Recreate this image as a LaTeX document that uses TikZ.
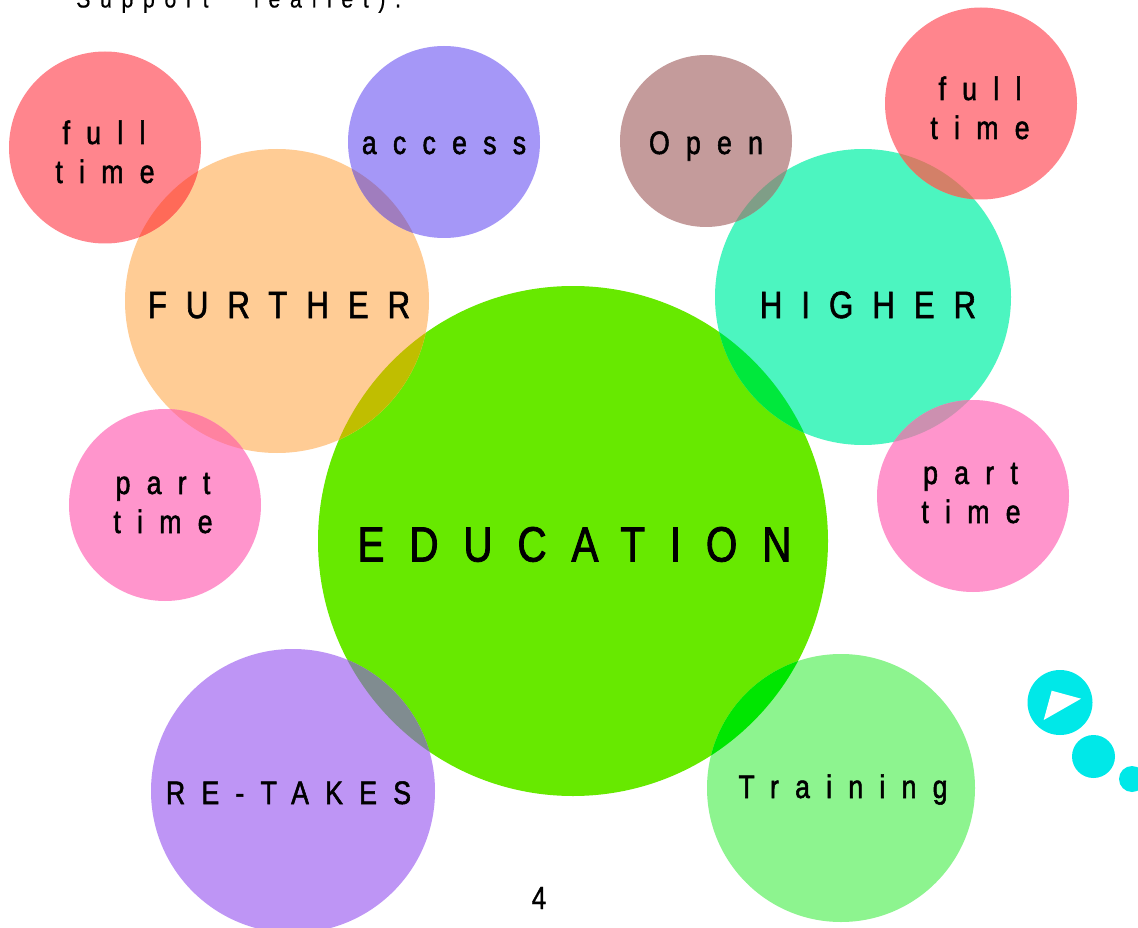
\documentclass[tikz,border=0pt]{standalone}
\usepackage{fontspec}
\setmainfont[FakeStretch=0.82,LetterSpace=50,FakeBold=1.6]{Liberation Sans}
\newfontfamily\plainfont[FakeStretch=0.82,FakeBold=1]{Liberation Sans}
\newfontfamily\topfont[FakeStretch=0.82,LetterSpace=37,FakeBold=0.5]{Liberation Sans}
\definecolor{cEdu}{HTML}{67E900}
\definecolor{cFur}{HTML}{FFCC95}
\definecolor{cHig}{HTML}{4CF5C0}
\definecolor{cRed}{HTML}{FF858D}
\definecolor{cAcc}{HTML}{A597F7}
\definecolor{cOpe}{HTML}{C49B9B}
\definecolor{cPin}{HTML}{FF95CC}
\definecolor{cRet}{HTML}{BE95F5}
\definecolor{cTra}{HTML}{8DF48F}
\definecolor{cCya}{HTML}{00E8E8}
\tikzset{
  x=1pt,y=-1pt,
  blob/.style={circle,minimum size=#1,inner sep=0pt,outer sep=0pt},
  lblXL/.style={anchor=base,inner sep=0pt,font=\fontsize{49.5}{49.5}\selectfont},
  lblL/.style={anchor=base,inner sep=0pt,font=\fontsize{38}{38}\selectfont},
  lblS/.style={anchor=base,inner sep=0pt,font=\fontsize{32.5}{32.5}\selectfont},
}
\newcommand{\ovl}[7]{% colour, x1,y1,r1, x2,y2,r2
  \begin{scope}\definecolor{ovlc}{HTML}{#1}\clip (#2,#3) circle[radius=#4];\fill[ovlc] (#5,#6) circle[radius=#7];\end{scope}}
\begin{document}
\begin{tikzpicture}
\useasboundingbox (0,0) rectangle (1138,928);
\clip (0,0) rectangle (1138,928);
\fill[white] (0,0) rectangle (1138,928);
% circles
\node[blob=510pt,fill=cEdu] (edu) at (573,541) {};
\node[blob=304pt,fill=cFur] (fur) at (277,301) {};
\node[blob=296pt,fill=cHig] (hig) at (863,297) {};
\node[blob=192pt,fill=cRed] (fl) at (105,147.5) {};
\node[blob=192pt,fill=cAcc] (acc) at (444,142) {};
\node[blob=172pt,fill=cOpe] (ope) at (706,141) {};
\node[blob=192pt,fill=cRed] (fr) at (981,103.5) {};
\node[blob=192pt,fill=cPin] (pl) at (165,505) {};
\node[blob=192pt,fill=cPin] (pr) at (973,496) {};
\node[blob=284pt,fill=cRet] (ret) at (293,791) {};
\node[blob=268pt,fill=cTra] (tra) at (841,788) {};
% overlaps
\ovl{FF6A58}{277}{301}{152}{105}{147.5}{96}
\ovl{A07DBE}{277}{301}{152}{444}{142}{96}
\ovl{FF82A0}{277}{301}{152}{165}{505}{96}
\ovl{C0BE00}{277}{301}{152}{573}{541}{255}
\ovl{00E83C}{863}{297}{148}{573}{541}{255}
\ovl{7F9E87}{863}{297}{148}{706}{141}{86}
\ovl{D38068}{863}{297}{148}{981}{103.5}{96}
\ovl{CC90B0}{863}{297}{148}{973}{496}{96}
\ovl{808C90}{293}{791}{142}{573}{541}{255}
\ovl{00E600}{841}{788}{134}{573}{541}{255}
% play badge
\node[blob=65pt,fill=cCya] (b1) at (1060,702.5) {};
\node[blob=43pt,fill=cCya] (b2) at (1093.5,756.5) {};
\node[blob=26pt,fill=cCya] (b3) at (1132,779) {};
\fill[white] (1051.7,690.7) -- (1081,698.7) -- (1043.7,720) -- cycle;
% labels
\node[lblXL] (tEdu) at (574.5,561.5) {EDUCATION};
\node[lblL] (tFur) at (279,318) {FURTHER};
\node[lblL] (tHig) at (868,318) {HIGHER};
\node[lblS] (tRet) at (288.5,804) {RE-TAKES};
\node[lblS] (tTra) at (843,798) {Training};
\node[lblS] (tAcc) at (444,154) {access};
\node[lblS] (tOpe) at (706,154) {Open};
\node[lblS] (tFl1) at (104,144) {full};
\node[lblS] (tFl2) at (105,183) {time};
\node[lblS] (tFr1) at (980,100) {full};
\node[lblS] (tFr2) at (980,139) {time};
\node[lblS] (tPl1) at (163,494) {part};
\node[lblS] (tPl2) at (163,533) {time};
\node[lblS] (tPr1) at (970.5,484) {part};
\node[lblS] (tPr2) at (971,523) {time};
\node[anchor=base,inner sep=0pt,font=\plainfont\fontsize{32}{32}\selectfont] (tNum) at (539,909) {4};
\node[anchor=base west,inner sep=0pt,font=\topfont\fontsize{26}{26}\selectfont] (tTop) at (76,7.5) {Support\hspace{30pt} leaflet).};
\end{tikzpicture}
\end{document}
